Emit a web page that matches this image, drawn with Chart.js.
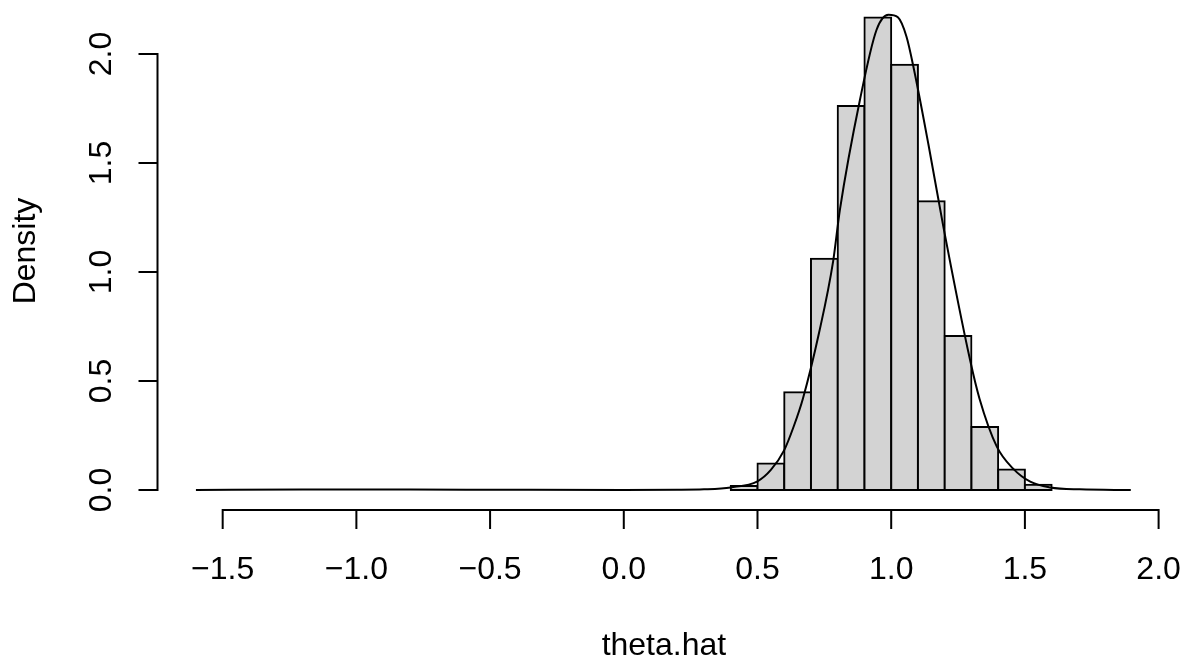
<!DOCTYPE html>
<html>
<head>
<meta charset="utf-8">
<style>
  html, body { margin: 0; padding: 0; background: #ffffff; }
  #wrap { width: 1186px; height: 659px; }
</style>
<script src="https://cdn.jsdelivr.net/npm/chart.js@4.4.1/dist/chart.umd.min.js"></script>
</head>
<body>
<div id="wrap"><canvas id="c" width="1186" height="659"></canvas></div>
<script>
// ---- data ----
const binCenters = [0.45, 0.55, 0.65, 0.75, 0.85, 0.95, 1.05, 1.15, 1.25, 1.35, 1.45, 1.55];
const binDensity = [0.018, 0.122, 0.448, 1.061, 1.761, 2.167, 1.951, 1.324, 0.706, 0.289, 0.094, 0.024];

const curveX = [-1.6, -1.2, -0.8, -0.45, 0.0, 0.2, 0.3, 0.4, 0.5, 0.55, 0.6, 0.635, 0.67, 0.73, 0.783, 0.808, 0.883, 0.945, 0.99, 1.025, 1.057, 1.085, 1.14, 1.195, 1.295, 1.33, 1.395, 1.455, 1.52, 1.595, 1.705, 1.896];
const curveY = [0, 0.002, 0.002, 0.001, 0.0005, 0.001, 0.003, 0.012, 0.04, 0.092, 0.183, 0.29, 0.42, 0.72, 1.05, 1.284, 1.789, 2.11, 2.18, 2.168, 2.08, 1.93, 1.58, 1.208, 0.596, 0.42, 0.199, 0.099, 0.038, 0.012, 0.003, 0];

const xTickValues = [-1.5, -1.0, -0.5, 0.0, 0.5, 1.0, 1.5, 2.0];
const xTickLabels = ["\u22121.5", "\u22121.0", "\u22120.5", "0.0", "0.5", "1.0", "1.5", "2.0"];
const yTickValues = [0, 0.5, 1.0, 1.5, 2.0];
const yTickLabels = ["0.0", "0.5", "1.0", "1.5", "2.0"];

const xTitle = "theta.hat";
const yTitle = "Density";

// ---- chart ----
const FONT = '32px "Liberation Sans", Arial, Helvetica, sans-serif';

const rAxes = {
  id: 'rAxes',
  afterDraw(chart) {
    const ctx = chart.ctx;
    const xs = chart.scales.x, ys = chart.scales.y;
    const area = chart.chartArea;
    ctx.save();
    ctx.strokeStyle = '#000';
    ctx.fillStyle = '#000';
    ctx.lineWidth = 2;
    ctx.lineCap = 'butt';
    ctx.font = FONT;

    // x axis
    const axY = area.bottom;
    const x0 = xs.getPixelForValue(xTickValues[0]);
    const x1 = xs.getPixelForValue(xTickValues[xTickValues.length - 1]);
    ctx.beginPath();
    ctx.moveTo(x0 - 1, axY); ctx.lineTo(x1 + 1, axY);
    xTickValues.forEach(v => {
      const px = xs.getPixelForValue(v);
      ctx.moveTo(px, axY); ctx.lineTo(px, axY + 19);
    });
    ctx.stroke();
    ctx.textAlign = 'center';
    ctx.textBaseline = 'alphabetic';
    xTickValues.forEach((v, i) => {
      ctx.fillText(xTickLabels[i], xs.getPixelForValue(v), 579);
    });
    ctx.fillText(xTitle, (area.left + area.right) / 2, 655);

    // y axis
    const axX = area.left - 1;
    const y0 = ys.getPixelForValue(yTickValues[0]);
    const y1 = ys.getPixelForValue(yTickValues[yTickValues.length - 1]);
    ctx.beginPath();
    ctx.moveTo(axX, y0 + 1); ctx.lineTo(axX, y1 - 1);
    yTickValues.forEach(v => {
      const py = ys.getPixelForValue(v);
      ctx.moveTo(axX, py); ctx.lineTo(axX - 19, py);
    });
    ctx.stroke();
    yTickValues.forEach((v, i) => {
      ctx.save();
      ctx.translate(111, ys.getPixelForValue(v));
      ctx.rotate(-Math.PI / 2);
      ctx.fillText(yTickLabels[i], 0, 0);
      ctx.restore();
    });
    ctx.save();
    ctx.translate(34.5, 251);
    ctx.rotate(-Math.PI / 2);
    ctx.fillText(yTitle, 0, 0);
    ctx.restore();
    ctx.restore();
  }
};

new Chart(document.getElementById('c'), {
  type: 'bar',
  data: {
    datasets: [
      {
        type: 'bar',
        data: binCenters.map((x, i) => ({ x: x, y: binDensity[i] })),
        backgroundColor: '#d3d3d3',
        borderColor: '#000000',
        borderWidth: 2,
        borderSkipped: false,
        inflateAmount: 1,
        barPercentage: 1.0,
        categoryPercentage: 1.0,
        order: 2
      },
      {
        type: 'line',
        data: curveX.map((x, i) => ({ x: x, y: curveY[i] })),
        borderColor: '#000000',
        borderWidth: 2,
        pointRadius: 0,
        fill: false,
        cubicInterpolationMode: 'monotone',
        clip: false,
        order: 1
      }
    ]
  },
  options: {
    responsive: false,
    animation: false,
    devicePixelRatio: 1,
    layout: { padding: { left: 158.5, right: 16.7, top: 6, bottom: 149 } },
    plugins: { legend: { display: false }, tooltip: { enabled: false } },
    scales: {
      x: { type: 'linear', min: -1.74, max: 2.04, offset: false, display: false },
      y: { type: 'linear', min: -0.0917, max: 2.22, display: false }
    }
  },
  plugins: [rAxes]
});
</script>
</body>
</html>
